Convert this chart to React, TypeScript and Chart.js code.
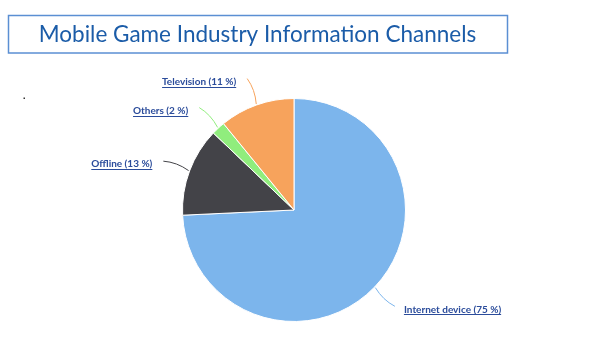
import React, { useEffect, useRef } from "react";
import { Chart, registerables } from "chart.js";

Chart.register(...registerables);

const TITLE = "Mobile Game Industry Information Channels";
const CATEGORIES = ["Internet device", "Offline", "Others", "Television"];
const VALUES = [75, 13, 2, 11];
const COLORS = ["#7cb5ec", "#434348", "#90ed7d", "#f7a35c"];
const LABEL_COLOR = "#2b4c9b";

const decorPlugin = {
  id: "decor",
  beforeDraw(chart: any) {
    const ctx = chart.ctx;
    ctx.save();
    // title box
    ctx.strokeStyle = "#5b8fd3";
    ctx.lineWidth = 1.5;
    ctx.strokeRect(8.5, 15.5, 499, 37.5);
    ctx.fillStyle = "#1b5ca8";
    ctx.font = "22.5px Lato, 'Open Sans', sans-serif";
    ctx.textAlign = "center";
    ctx.textBaseline = "middle";
    ctx.fillText(TITLE, 257.5, 34.5);
    // small stray dot
    ctx.fillStyle = "#333";
    ctx.fillRect(23.5, 97.5, 1.5, 1.5);
    ctx.restore();
  },
  afterDatasetsDraw(chart: any) {
    const ctx = chart.ctx;
    const meta = chart.getDatasetMeta(0);
    ctx.save();
    meta.data.forEach((arc: any, i: number) => {
      const { x, y, startAngle, endAngle, outerRadius } = arc.getProps(
        ["x", "y", "startAngle", "endAngle", "outerRadius"],
        true
      );
      const mid = (startAngle + endAngle) / 2;
      const r0 = outerRadius + 1;
      const r1 = outerRadius + 28;
      const sx = x + Math.cos(mid) * r0;
      const sy = y + Math.sin(mid) * r0;
      const ex = x + Math.cos(mid) * r1;
      const ey = y + Math.sin(mid) * r1;
      const cx = x + Math.cos(mid + 0.03) * (outerRadius + 15);
      const cy = y + Math.sin(mid + 0.03) * (outerRadius + 15);
      ctx.strokeStyle = COLORS[i];
      ctx.lineWidth = 1;
      ctx.beginPath();
      ctx.moveTo(sx, sy);
      ctx.quadraticCurveTo(cx, cy, ex, ey);
      ctx.stroke();

      const text = `${CATEGORIES[i]} (${VALUES[i]} %)`;
      ctx.font = "bold 10px Lato, 'Open Sans', sans-serif";
      ctx.fillStyle = LABEL_COLOR;
      ctx.textBaseline = "middle";
      const left = Math.cos(mid) < 0;
      const w = ctx.measureText(text).width;
      const tx = left ? ex - 11 - w : ex + 9;
      const ty = ey + 3;
      ctx.textAlign = "left";
      ctx.fillText(text, tx, ty);
      ctx.strokeStyle = LABEL_COLOR;
      ctx.lineWidth = 1;
      ctx.beginPath();
      ctx.moveTo(tx, Math.round(ty + 5) + 0.5);
      ctx.lineTo(tx + w, Math.round(ty + 5) + 0.5);
      ctx.stroke();
    });
    ctx.restore();
  },
};

export default function App() {
  const ref = useRef<HTMLCanvasElement>(null);
  useEffect(() => {
    document.body.style.margin = "0";
    const chart = new Chart(ref.current!, {
      type: "pie",
      data: {
        labels: CATEGORIES,
        datasets: [
          {
            data: VALUES,
            backgroundColor: COLORS,
            borderColor: "#ffffff",
            borderWidth: 1,
            hoverOffset: 0,
          },
        ],
      },
      options: {
        responsive: false,
        animation: false,
        layout: { padding: { left: 182, top: 98, right: 192, bottom: 33 } },
        plugins: {
          legend: { display: false },
          tooltip: { enabled: false },
          title: { display: false },
        },
      },
      plugins: [decorPlugin],
    });
    return () => chart.destroy();
  }, []);
  return (
    <div style={{ position: "absolute", left: 0, top: 0, width: 598, height: 355, background: "#fff" }}>
      <canvas ref={ref} width={598} height={355} />
    </div>
  );
}
